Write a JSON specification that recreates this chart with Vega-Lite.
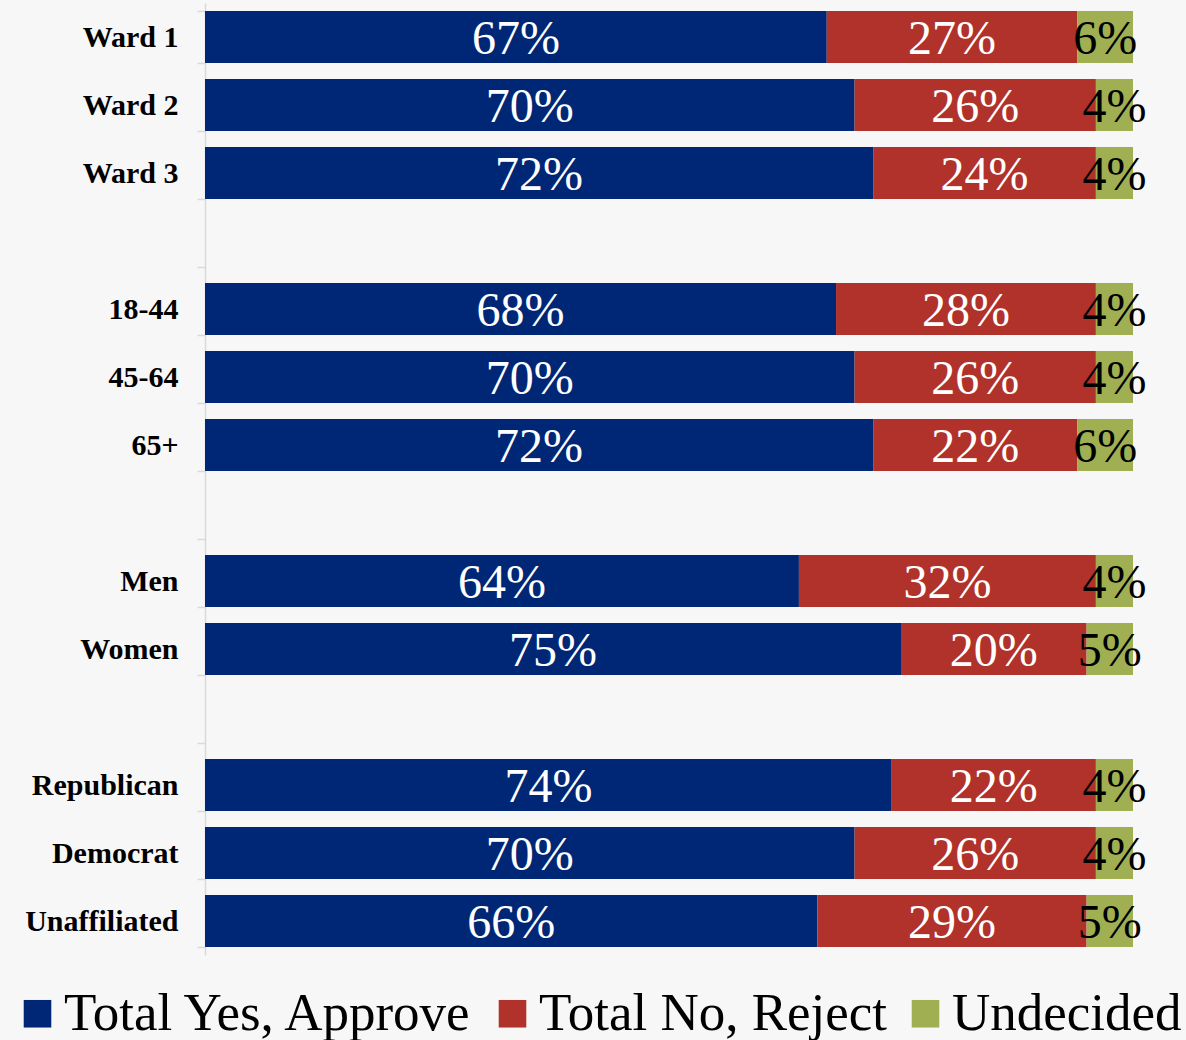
{
  "$schema": "https://vega.github.io/schema/vega-lite/v6.json",
  "width": 928,
  "height": 952,
  "autosize": {"type": "none"},
  "padding": {"left": 205, "top": 3, "right": 53, "bottom": 85},
  "background": "#f7f7f7",
  "config": {"view": {"stroke": null}, "font": "Liberation Serif"},
  "data": {
    "values": [
      {"cat": "Ward 1", "resp": "Total Yes, Approve", "ord": 1, "v": 0.67},
      {"cat": "Ward 1", "resp": "Total No, Reject", "ord": 2, "v": 0.27},
      {"cat": "Ward 1", "resp": "Undecided", "ord": 3, "v": 0.06},
      {"cat": "Ward 2", "resp": "Total Yes, Approve", "ord": 1, "v": 0.70},
      {"cat": "Ward 2", "resp": "Total No, Reject", "ord": 2, "v": 0.26},
      {"cat": "Ward 2", "resp": "Undecided", "ord": 3, "v": 0.04},
      {"cat": "Ward 3", "resp": "Total Yes, Approve", "ord": 1, "v": 0.72},
      {"cat": "Ward 3", "resp": "Total No, Reject", "ord": 2, "v": 0.24},
      {"cat": "Ward 3", "resp": "Undecided", "ord": 3, "v": 0.04},
      {"cat": "18-44", "resp": "Total Yes, Approve", "ord": 1, "v": 0.68},
      {"cat": "18-44", "resp": "Total No, Reject", "ord": 2, "v": 0.28},
      {"cat": "18-44", "resp": "Undecided", "ord": 3, "v": 0.04},
      {"cat": "45-64", "resp": "Total Yes, Approve", "ord": 1, "v": 0.70},
      {"cat": "45-64", "resp": "Total No, Reject", "ord": 2, "v": 0.26},
      {"cat": "45-64", "resp": "Undecided", "ord": 3, "v": 0.04},
      {"cat": "65+", "resp": "Total Yes, Approve", "ord": 1, "v": 0.72},
      {"cat": "65+", "resp": "Total No, Reject", "ord": 2, "v": 0.22},
      {"cat": "65+", "resp": "Undecided", "ord": 3, "v": 0.06},
      {"cat": "Men", "resp": "Total Yes, Approve", "ord": 1, "v": 0.64},
      {"cat": "Men", "resp": "Total No, Reject", "ord": 2, "v": 0.32},
      {"cat": "Men", "resp": "Undecided", "ord": 3, "v": 0.04},
      {"cat": "Women", "resp": "Total Yes, Approve", "ord": 1, "v": 0.75},
      {"cat": "Women", "resp": "Total No, Reject", "ord": 2, "v": 0.20},
      {"cat": "Women", "resp": "Undecided", "ord": 3, "v": 0.05},
      {"cat": "Republican", "resp": "Total Yes, Approve", "ord": 1, "v": 0.74},
      {"cat": "Republican", "resp": "Total No, Reject", "ord": 2, "v": 0.22},
      {"cat": "Republican", "resp": "Undecided", "ord": 3, "v": 0.04},
      {"cat": "Democrat", "resp": "Total Yes, Approve", "ord": 1, "v": 0.70},
      {"cat": "Democrat", "resp": "Total No, Reject", "ord": 2, "v": 0.26},
      {"cat": "Democrat", "resp": "Undecided", "ord": 3, "v": 0.04},
      {"cat": "Unaffiliated", "resp": "Total Yes, Approve", "ord": 1, "v": 0.66},
      {"cat": "Unaffiliated", "resp": "Total No, Reject", "ord": 2, "v": 0.29},
      {"cat": "Unaffiliated", "resp": "Undecided", "ord": 3, "v": 0.05}
    ]
  },
  "transform": [
    {"stack": "v", "groupby": ["cat"], "sort": [{"field": "ord"}], "as": ["x0", "x1"]},
    {"calculate": "(datum.x0 + datum.x1) / 2", "as": "xm"}
  ],
  "encoding": {
    "y": {
      "field": "cat",
      "type": "nominal",
      "title": null,
      "scale": {
        "domain": ["Ward 1", "Ward 2", "Ward 3", " ", "18-44", "45-64", "65+", "  ", "Men", "Women", "   ", "Republican", "Democrat", "Unaffiliated"],
        "paddingInner": 0.235,
        "paddingOuter": 0.1175
      },
      "axis": {
        "domainColor": "#d9d9d9",
        "domainWidth": 1.5,
        "tickColor": "#d9d9d9",
        "tickWidth": 1.5,
        "tickSize": 8,
        "tickBand": "extent",
        "labelFont": "Liberation Serif",
        "labelFontWeight": "bold",
        "labelFontSize": 30,
        "labelColor": "#000000",
        "labelPadding": 19,
        "labelLimit": 300
      }
    }
  },
  "layer": [
    {
      "mark": {"type": "bar"},
      "encoding": {
        "x": {"field": "x0", "type": "quantitative", "scale": {"domain": [0, 1], "nice": false, "clamp": true}, "axis": null},
        "x2": {"field": "x1"},
        "color": {
          "field": "resp",
          "type": "nominal",
          "scale": {
            "domain": ["Total Yes, Approve", "Total No, Reject", "Undecided"],
            "range": ["#002776", "#b0322a", "#9faf52"]
          },
          "legend": {
            "title": null,
            "orient": "none",
            "direction": "horizontal",
            "legendX": -194,
            "legendY": 984,
            "padding": 0,
            "symbolType": "square",
            "symbolSize": 760,
            "symbolStrokeWidth": 0,
            "symbolOpacity": 1,
            "labelFont": "Liberation Serif",
            "labelFontSize": 53,
            "labelColor": "#000000",
            "labelOffset": 0,
            "labelLimit": 500,
            "columnPadding": 11
          }
        },
        "order": {"field": "ord", "type": "quantitative"}
      }
    },
    {
      "mark": {"type": "text", "font": "Liberation Serif", "fontSize": 48, "baseline": "middle", "align": "center", "dy": 3},
      "encoding": {
        "x": {"field": "xm", "type": "quantitative"},
        "text": {"field": "v", "type": "quantitative", "format": ".0%"},
        "color": {
          "condition": {"test": "datum.resp === 'Undecided'", "value": "#000000"},
          "value": "#ffffff"
        }
      }
    }
  ]
}
